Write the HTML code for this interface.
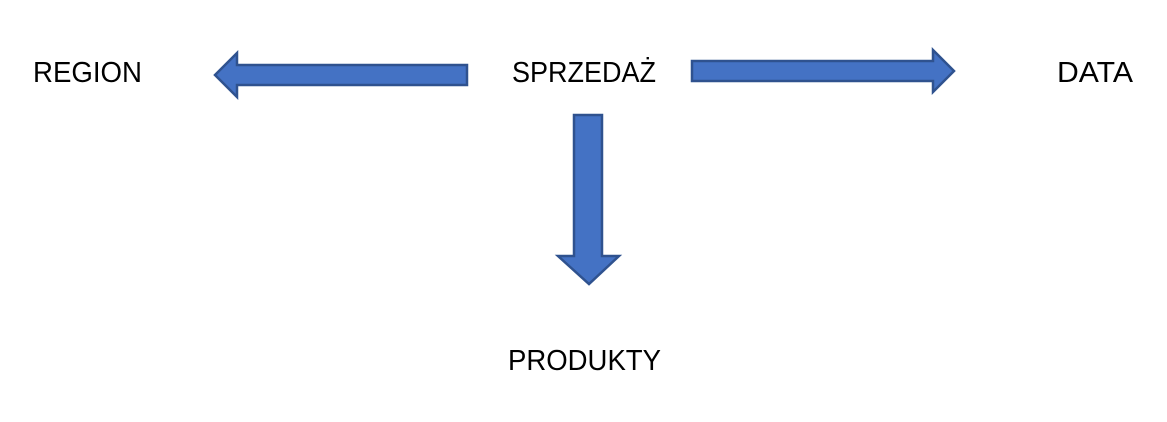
<!DOCTYPE html>
<html><head><meta charset="utf-8"><style>
html,body{margin:0;padding:0;background:#fff;}
svg{display:block;}
text{font-family:"Liberation Sans",sans-serif;font-size:29px;fill:#000;}
</style></head><body>
<svg width="1167" height="422" viewBox="0 0 1167 422" xmlns="http://www.w3.org/2000/svg">
<g fill="#4472C4" stroke="#2F528F" stroke-width="2.5" stroke-linejoin="miter">
<polygon points="467,65 237,65 237,53 215,75 237,97 237,85 467,85"/>
<polygon points="692,61 933,61 933,50 954,71 933,92 933,81 692,81"/>
<polygon points="574,115 602,115 602,256 619,256 589,284 558,256 574,256"/>
</g>
<text x="33" y="82" textLength="109" lengthAdjust="spacingAndGlyphs">REGION</text>
<text x="512" y="82" textLength="144" lengthAdjust="spacingAndGlyphs">SPRZEDAŻ</text>
<text x="1057" y="82" textLength="76" lengthAdjust="spacingAndGlyphs">DATA</text>
<text x="508" y="370" textLength="153" lengthAdjust="spacingAndGlyphs">PRODUKTY</text>
</svg>
</body></html>
